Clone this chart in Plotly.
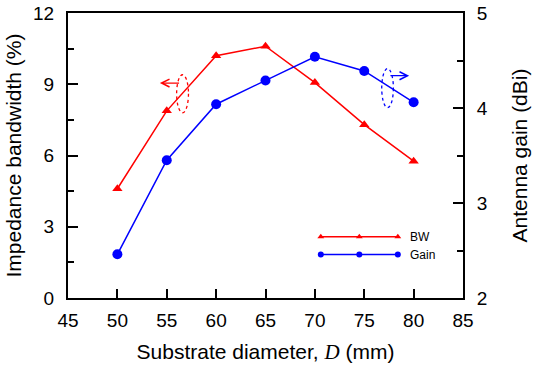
import plotly.graph_objects as go

# Data
diameter = [50, 55, 60, 65, 70, 75, 80]
bandwidth = [4.60, 7.88, 10.20, 10.60, 9.07, 7.30, 5.76]
gain = [2.46, 3.45, 4.04, 4.29, 4.54, 4.39, 4.06]

x_ticks = [45, 50, 55, 60, 65, 70, 75, 80, 85]
y1_ticks = [0, 3, 6, 9, 12]
y2_ticks = [2, 3, 4, 5]

RED = "#FF0000"
BLUE = "#0000FF"
FONT = "Arial, 'Liberation Sans', sans-serif"

fig = go.Figure()

fig.add_trace(go.Scatter(
    x=diameter, y=bandwidth, mode="lines+markers", name="BW",
    line=dict(color=RED, width=1.5),
    marker=dict(symbol="triangle-up", size=9, color=RED),
    showlegend=False,
))
fig.add_trace(go.Scatter(
    x=diameter, y=gain, mode="lines+markers", name="Gain", yaxis="y2",
    line=dict(color=BLUE, width=1.5),
    marker=dict(symbol="circle", size=10, color=BLUE),
    showlegend=False,
))

# Custom legend glyphs (long sample line with three markers) on a hidden overlay axis
leg_x = [0.64, 0.7375, 0.835]
leg_y_bw = 0.2146
leg_y_gain = 0.1525
fig.add_trace(go.Scatter(
    x=leg_x, y=[leg_y_bw] * 3, xaxis="x3", yaxis="y3", mode="lines+markers",
    line=dict(color=RED, width=1.5), marker=dict(symbol="triangle-up", size=6, color=RED),
    showlegend=False, hoverinfo="skip",
))
fig.add_trace(go.Scatter(
    x=leg_x, y=[leg_y_gain] * 3, xaxis="x3", yaxis="y3", mode="lines+markers",
    line=dict(color=BLUE, width=1.5), marker=dict(symbol="circle", size=6, color=BLUE),
    showlegend=False, hoverinfo="skip",
))

axis_common = dict(
    showline=True, linecolor="black", linewidth=2,
    ticks="inside", tickcolor="black", tickwidth=2,
    showgrid=False, zeroline=False, automargin=False,
    tickfont=dict(family=FONT, size=19, color="black"),
)

fig.update_layout(
    width=550, height=367,
    margin=dict(l=68, r=87, t=13, b=69),
    paper_bgcolor="white", plot_bgcolor="white",
    font=dict(family=FONT, color="black"),
    xaxis=dict(
        range=[45, 85], tickvals=x_ticks, ticklen=9, mirror=True,
        title=dict(text="Substrate diameter, <span style=\"font-family:'Liberation Serif', 'Times New Roman', serif\"><i>D</i></span> (mm)",
                   font=dict(family=FONT, size=21), standoff=15),
        ticklabelstandoff=4,
        **axis_common,
    ),
    yaxis=dict(
        range=[0, 12], tickvals=y1_ticks, ticklen=10,
        minor=dict(dtick=1.5, ticklen=6, ticks="inside", tickcolor="black", tickwidth=2),
        title=dict(text="Impedance bandwidth (%)", font=dict(family=FONT, size=21), standoff=6),
        ticklabelstandoff=8,
        **axis_common,
    ),
    yaxis2=dict(
        range=[2, 5], tickvals=y2_ticks, ticklen=10, side="right", overlaying="y",
        minor=dict(dtick=0.5, ticklen=6, ticks="inside", tickcolor="black", tickwidth=2),
        title=dict(text="Antenna gain (dBi)", font=dict(family=FONT, size=21), standoff=26),
        ticklabelstandoff=8,
        **axis_common,
    ),
    xaxis3=dict(overlaying="x", range=[0, 1], visible=False),
    yaxis3=dict(overlaying="y", range=[0, 1], visible=False),
)

# Legend labels
fig.add_annotation(x=0.86, y=leg_y_bw, xref="paper", yref="paper", text="BW",
                   showarrow=False, xanchor="left", yanchor="middle",
                   font=dict(family=FONT, size=12, color="black"))
fig.add_annotation(x=0.86, y=leg_y_gain, xref="paper", yref="paper", text="Gain",
                   showarrow=False, xanchor="left", yanchor="middle",
                   font=dict(family=FONT, size=12, color="black"))

# Axis-indicator arrows and dashed ellipses
fig.add_annotation(x=54.3, y=9.05, ax=56.4, ay=9.05, xref="x", yref="y", axref="x", ayref="y",
                   text="", showarrow=True, arrowhead=5, arrowsize=1.3, arrowwidth=1.2, arrowcolor=RED)
fig.add_shape(type="circle", xref="x", yref="y", x0=56.0, x1=57.2, y0=7.80, y1=9.40,
              line=dict(color=RED, width=1.3, dash="dot"))

fig.add_annotation(x=79.55, y=4.34, ax=77.5, ay=4.34, xref="x", yref="y2", axref="x", ayref="y2",
                   text="", showarrow=True, arrowhead=5, arrowsize=1.3, arrowwidth=1.2, arrowcolor=BLUE)
fig.add_shape(type="circle", xref="x", yref="y2", x0=76.77, x1=77.95, y0=4.004, y1=4.414,
              line=dict(color=BLUE, width=1.3, dash="dot"))

# Remove the browser's default 8px body margin so the figure sits at the window origin
fig.write_html("out.html", config={"displayModeBar": False},
               post_script="document.body.style.margin='0';")
